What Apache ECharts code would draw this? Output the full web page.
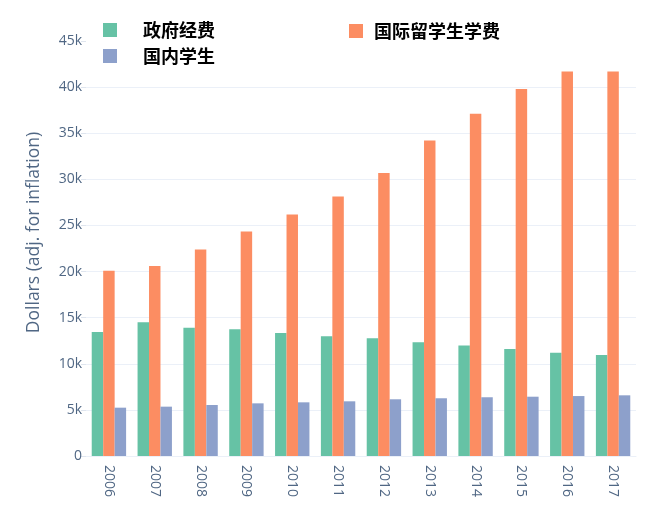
<!DOCTYPE html>
<html>
<head>
<meta charset="utf-8">
<script src="https://cdn.jsdelivr.net/npm/echarts@6/dist/echarts.min.js"></script>
<style>
html,body{margin:0;padding:0;background:#fff;}
#chart{width:648px;height:508px;}
</style>
</head>
<body>
<div id="chart"></div>
<script>
const years = ['2006','2007','2008','2009','2010','2011','2012','2013','2014','2015','2016','2017'];
const govFunding = [13450, 14500, 13900, 13750, 13350, 12980, 12760, 12330, 11970, 11600, 11200, 10950];
const intlFees = [20100, 20600, 22400, 24350, 26200, 28150, 30700, 34200, 37100, 39800, 41700, 41700];
const domestic = [5240, 5350, 5530, 5710, 5820, 5930, 6150, 6260, 6370, 6430, 6500, 6580];
const yTicks = ['0','5k','10k','15k','20k','25k','30k','35k','40k','45k'];

const chart = echarts.init(document.getElementById('chart'), null, {renderer:'canvas'});
const gridColor = '#ebf0f8';
function legendText(padLeft){
  return {fontFamily:'"Noto Sans CJK SC", sans-serif', fontWeight:'bold', fontSize:18, lineHeight:18, color:'#000', padding:[0,0,0,padLeft]};
}
chart.setOption({
  animation:false,
  backgroundColor:'#fff',
  color:['#66c2a5','#fc8d62','#8da0cb'],
  legend:[{
    data:['政府经费','国内学生'],
    orient:'vertical', left:98, top:16, itemWidth:14, itemHeight:14, itemGap:8,
    icon:'rect', textStyle:legendText(21)
  },{
    data:['国际留学生学费'],
    orient:'vertical', left:344, top:17, itemWidth:14, itemHeight:14,
    icon:'rect', textStyle:legendText(6)
  }],
  grid:{left:86, right:12, top:41, bottom:52},
  xAxis:{
    type:'category', data:years,
    axisLine:{show:true, lineStyle:{color:gridColor, width:1}},
    axisTick:{show:false},
    axisLabel:{rotate:-90, color:'#506784', fontFamily:'"Open Sans", sans-serif', fontSize:14, margin:9}
  },
  yAxis:{
    type:'value', min:0, max:45000, interval:5000,
    name:'Dollars (adj. for inflation)', nameLocation:'middle', nameGap:43,
    nameTextStyle:{color:'#506784', fontFamily:'"Open Sans", sans-serif', fontSize:17.5, padding:[0,0,0,32]},
    axisLine:{show:false},
    axisTick:{show:true, length:5, lineStyle:{color:'#dfe5ee'}},
    axisLabel:{color:'#506784', fontFamily:'"Open Sans", sans-serif', fontSize:14, margin:4,
      formatter:function(v){return yTicks[Math.round(v/5000)];}},
    splitLine:{show:true, lineStyle:{color:['#ebf0f8','#ebf0f8','#ebf0f8','#ebf0f8','#ebf0f8','#ebf0f8','#ebf0f8','#ebf0f8','#ebf0f8','rgba(0,0,0,0)'], width:1}}
  },
  series:[
    {name:'政府经费', type:'bar', data:govFunding, barGap:'0%', barCategoryGap:'25%'},
    {name:'国际留学生学费', type:'bar', data:intlFees, barGap:'0%', barCategoryGap:'25%'},
    {name:'国内学生', type:'bar', data:domestic, barGap:'0%', barCategoryGap:'25%'}
  ]
});
</script>
</body>
</html>
